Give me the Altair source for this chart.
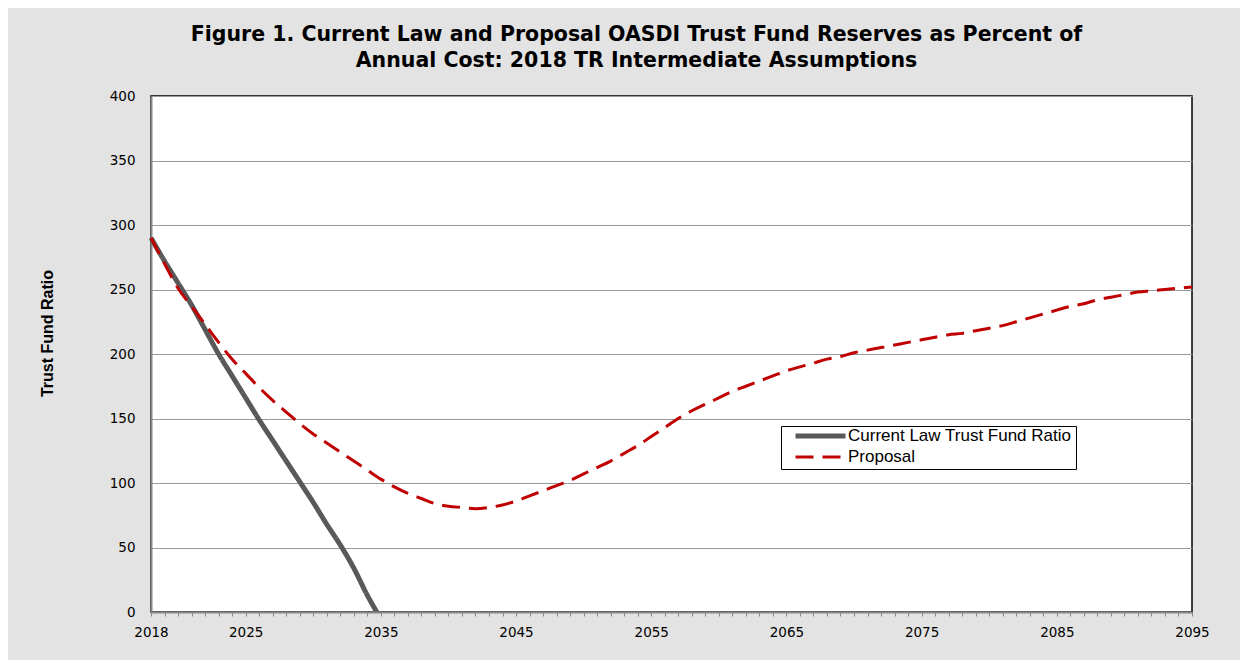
import altair as alt
import pandas as pd

# ---- data ----
series_names = ["Current Law Trust Fund Ratio", "Proposal"]

current_years = [2018, 2019, 2020, 2021, 2022, 2023, 2024, 2025, 2026,
                 2027, 2028, 2029, 2030, 2031, 2032, 2033, 2034, 2034.7]
current_law = [290, 272, 255, 238, 219, 200, 183, 166, 149,
               133, 117, 101, 85, 68, 52, 34, 13, 0]

proposal_years = list(range(2018, 2096))
proposal = [290, 270, 251, 237, 223, 209, 196, 185, 174, 164,
            155, 146, 138, 131, 124, 117, 110, 103, 97, 92,
            88, 84, 82, 81, 80, 81, 83, 86, 90, 94,
            98, 102, 107, 112, 117, 123, 129, 136, 143, 150,
            156, 161, 166, 171, 175, 179, 183, 187, 190, 193,
            196, 198, 201, 203, 205, 207, 209, 211, 213, 215,
            216, 218, 220, 222, 225, 228, 231, 234, 237, 239,
            242, 244, 246, 248, 249, 250, 251, 252]

x_tick_labels = [2018, 2025, 2035, 2045, 2055, 2065, 2075, 2085, 2095]
x_minor_ticks = list(range(2018, 2096))
y_ticks = [0, 50, 100, 150, 200, 250, 300, 350, 400]

title_lines = ["Figure 1. Current Law and Proposal OASDI Trust Fund Reserves as Percent of",
               "Annual Cost: 2018 TR Intermediate Assumptions"]

df = pd.concat([
    pd.DataFrame({"year": current_years, "ratio": current_law, "series": series_names[0]}),
    pd.DataFrame({"year": proposal_years, "ratio": proposal, "series": series_names[1]}),
], ignore_index=True)

label_expr = "indexof([" + ",".join(str(v) for v in x_tick_labels) + "], datum.value) >= 0 ? datum.value : ''"

leg = alt.Legend(
    title=None, orient="none", legendX=630, legendY=330,
    fillColor="white", strokeColor="black", padding=4,
    symbolType="stroke", symbolSize=2500, symbolOffset=8, clipHeight=12,
    labelFont="Liberation Sans", labelFontSize=17, labelColor="black",
    labelOffset=0, rowPadding=4, labelLimit=500,
)

chart = alt.Chart(df).mark_line(interpolate="monotone").encode(
    x=alt.X("year:Q",
            scale=alt.Scale(domain=[2018, 2095], nice=False, zero=False),
            axis=alt.Axis(values=x_minor_ticks, labelExpr=label_expr, title=None,
                          grid=False, labelOverlap=False, labelFlush=False,
                          tickSize=4, tickColor="#888888", domainColor="#888888",
                          domainWidth=2, labelPadding=9, labelFont="DejaVu Sans",
                          labelFontSize=13.5, labelColor="black", zindex=1)),
    y=alt.Y("ratio:Q",
            scale=alt.Scale(domain=[0, 400], nice=False),
            axis=alt.Axis(values=y_ticks, title="Trust Fund Ratio", ticks=False,
                          gridColor="#999999", gridWidth=1, domainColor="#888888",
                          domainWidth=2, labelPadding=16, labelFont="DejaVu Sans",
                          labelFontSize=13.5, labelColor="black",
                          titleFont="Liberation Sans", titleFontSize=16,
                          titleFontWeight="bold", titleColor="black",
                          titleAngle=270, titleX=-104, titleY=237,
                          titleAlign="center", titleBaseline="middle", zindex=0)),
    color=alt.Color("series:N", scale=alt.Scale(domain=series_names, range=["#595959", "#c00000"]), legend=leg),
    strokeDash=alt.StrokeDash("series:N", scale=alt.Scale(domain=series_names, range=[[1, 0], [18, 9]]), legend=leg),
    strokeWidth=alt.StrokeWidth("series:N", scale=alt.Scale(domain=series_names, range=[5, 3]), legend=leg),
).properties(
    width=1041, height=516,
    title=alt.TitleParams(text=title_lines, font="DejaVu Sans", fontSize=20.5,
                          fontWeight="bold", color="black", anchor="middle",
                          frame="group", dx=-35, offset=18, lineHeight=26),
    autosize=alt.AutoSizeParams(type="none"),
    padding={"left": 143, "top": 88, "right": 48, "bottom": 48},
    background="#e3e3e3",
).configure_view(
    fill="white", stroke="black", strokeWidth=1.5
)

chart.save("out.html", embed_options={"renderer": "svg", "actions": False})
